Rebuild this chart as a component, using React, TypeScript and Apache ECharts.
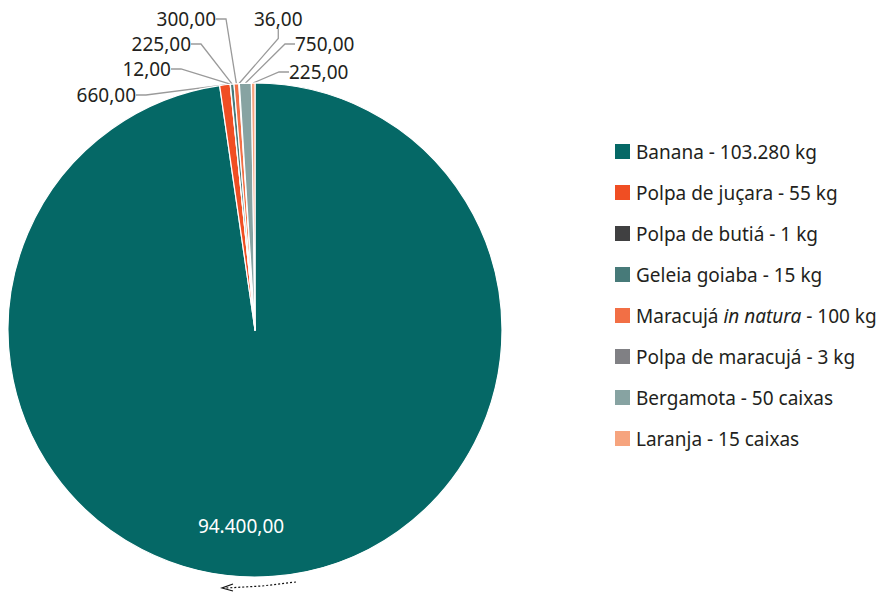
import React, { useEffect, useRef } from "react";
import * as echarts from "echarts";

const categories = [
  "Banana - 103.280 kg",
  "Polpa de juçara - 55 kg",
  "Polpa de butiá - 1 kg",
  "Geleia goiaba - 15 kg",
  "Maracujá in natura - 100 kg",
  "Polpa de maracujá - 3 kg",
  "Bergamota - 50 caixas",
  "Laranja - 15 caixas",
];
const values = [94400, 660, 12, 225, 300, 36, 750, 225];
const colors = ["#056866", "#F04E23", "#404041", "#477A79", "#F26F45", "#808084", "#87A3A2", "#F6A47E"];

// label anchor positions (layout only)
const labelPos: { x: number; y: number; align: string }[] = [
  { x: 241, y: 526, align: "center" },
  { x: 136, y: 95, align: "right" },
  { x: 171, y: 69, align: "right" },
  { x: 191, y: 44, align: "right" },
  { x: 216, y: 19, align: "right" },
  { x: 254, y: 19, align: "left" },
  { x: 295, y: 44, align: "left" },
  { x: 289, y: 72, align: "left" },
];

function fmt(v: number): string {
  const s = Math.round(v).toString();
  const withDots = s.replace(/\B(?=(\d{3})+(?!\d))/g, ".");
  return withDots + ",00";
}

const FONT = "'Noto Sans', sans-serif";
const TXT = "#231F20";
const FS = 19;

export default function App() {
  const ref = useRef<HTMLDivElement>(null);
  useEffect(() => {
    const chart = echarts.init(ref.current!, null, { renderer: "svg" });
    const data = categories.map((name, i) => {
      const d: any = { name, value: values[i], itemStyle: { color: colors[i] } };
      if (i === 0) {
        d.label = { position: "inside", color: "#ffffff" };
        d.labelLine = { show: false };
      }
      return d;
    });
    chart.setOption({
      animation: false,
      legend: {
        orient: "vertical",
        left: 613,
        top: 142,
        padding: 0,
        itemWidth: 17,
        itemHeight: 17,
        itemGap: 22,
        itemTextGap: 7,
        icon: "rect",
        textStyle: {
          fontFamily: FONT,
          fontSize: FS,
          lineHeight: 19,
          color: TXT,
          rich: {
            n: { fontFamily: FONT, fontSize: FS, lineHeight: 19, color: TXT },
            i: { fontFamily: FONT, fontSize: FS, lineHeight: 19, color: TXT, fontStyle: "italic" },
          },
        },
        formatter: (name: string) => {
          if (name.indexOf(" in natura") >= 0) {
            const parts = name.split("in natura");
            return "{n|" + parts[0] + "}{i|in natura}{n|" + parts[1] + "}";
          }
          return name;
        },
        data: categories,
      },
      series: [
        {
          type: "pie",
          center: [255, 330],
          radius: [0, 247],
          startAngle: 90,
          clockwise: true,
          avoidLabelOverlap: false,
          itemStyle: { borderColor: "#ffffff", borderWidth: 1.2 },
          label: {
            show: true,
            position: "outside",
            fontFamily: FONT,
            fontSize: FS,
            color: TXT,
            formatter: (p: any) => fmt(p.value),
          },
          labelLine: {
            show: true,
            length: 10,
            length2: 10,
            lineStyle: { color: "#9a9a9a", width: 1.3 },
          },
          labelLayout: (p: any) => {
            const lp = labelPos[p.dataIndex];
            return { x: lp.x, y: lp.y, align: lp.align, verticalAlign: "middle" };
          },
          emphasis: { disabled: true },
          data,
        },
      ],
      graphic: [
        {
          type: "polyline",
          shape: { points: [[296, 582], [262, 586], [226, 588]] },
          style: { stroke: "#111", lineWidth: 1.2, lineDash: [2, 2], fill: null },
        },
        {
          type: "polyline",
          shape: { points: [[233, 584], [222, 588], [233, 591]] },
          style: { stroke: "#111", lineWidth: 1.2, fill: null },
        },
      ],
    });
    return () => chart.dispose();
  }, []);
  return <div ref={ref} style={{ position: "absolute", left: 0, top: 0, width: 879, height: 592 }} />;
}
